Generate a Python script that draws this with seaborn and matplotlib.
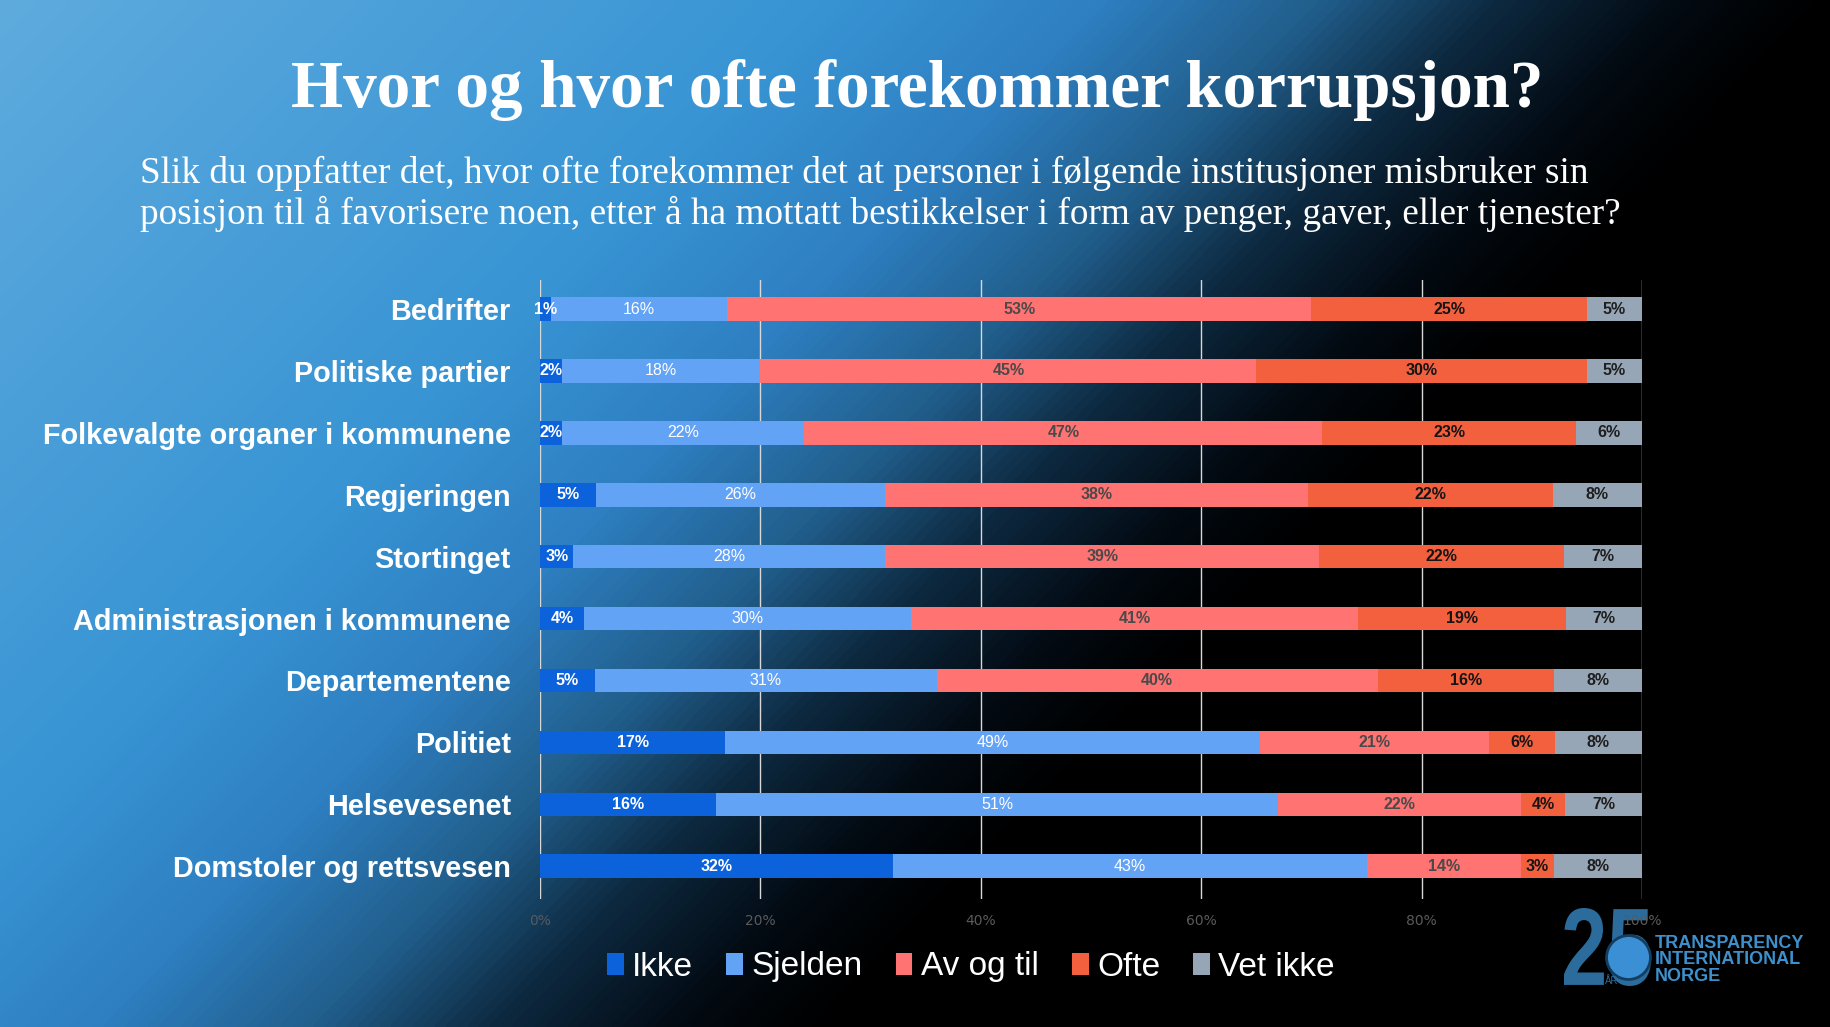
import numpy as np
import pandas as pd
import seaborn as sns
import matplotlib.pyplot as plt
import matplotlib.transforms as mtransforms
from matplotlib.colors import LinearSegmentedColormap
from matplotlib.patches import Patch, PathPatch
from matplotlib.textpath import TextPath
from matplotlib.font_manager import FontProperties

# Data
categories = [
    "Bedrifter",
    "Politiske partier",
    "Folkevalgte organer i kommunene",
    "Regjeringen",
    "Stortinget",
    "Administrasjonen i kommunene",
    "Departementene",
    "Politiet",
    "Helsevesenet",
    "Domstoler og rettsvesen",
]
ikke = [1, 2, 2, 5, 3, 4, 5, 17, 16, 32]
sjelden = [16, 18, 22, 26, 28, 30, 31, 49, 51, 43]
av_og_til = [53, 45, 47, 38, 39, 41, 40, 21, 22, 14]
ofte = [25, 30, 23, 22, 22, 19, 16, 6, 4, 3]
vet_ikke = [5, 5, 6, 8, 7, 7, 8, 8, 7, 8]
series_names = ["Ikke", "Sjelden", "Av og til", "Ofte", "Vet ikke"]
x_ticks = [0, 20, 40, 60, 80, 100]

title = "Hvor og hvor ofte forekommer korrupsjon?"
subtitle_1 = ("Slik du oppfatter det, hvor ofte forekommer det at personer i "
              "følgende institusjoner misbruker sin")
subtitle_2 = ("posisjon til å favorisere noen, etter å ha mottatt bestikkelser "
              "i form av penger, gaver, eller tjenester?")

colors = {
    "Ikke": "#0b62db",
    "Sjelden": "#63a3f6",
    "Av og til": "#ff7373",
    "Ofte": "#f2603e",
    "Vet ikke": "#97a6b6",
}
# (text colour, weight) for the labels in the bars
label_style = {
    "Ikke": ("white", "bold"),
    "Sjelden": ("white", "normal"),
    "Av og til": ("#4a4a4a", "bold"),
    "Ofte": ("#151515", "bold"),
    "Vet ikke": ("#1e1e1e", "bold"),
}

df = pd.DataFrame({
    "kategori": categories,
    "Ikke": ikke,
    "Sjelden": sjelden,
    "Av og til": av_og_til,
    "Ofte": ofte,
    "Vet ikke": vet_ikke,
})
# stacked to 100 %
shares = df[series_names].div(df[series_names].sum(axis=1), axis=0) * 100
cum = shares.cumsum(axis=1)

W, H = 1830, 1027
fig = plt.figure(figsize=(W / 100, H / 100), dpi=100)

# background gradient
bg = fig.add_axes([0, 0, 1, 1], zorder=-1)
yy, xx = np.mgrid[0:1:200j, 0:1:360j]
t = xx + 0.55 * yy
cmap = LinearSegmentedColormap.from_list("bg", [
    (0.0, (0.37, 0.67, 0.87)),
    (0.45 / 1.55, (0.22, 0.58, 0.83)),
    (0.60 / 1.55, (0.18, 0.50, 0.76)),
    (0.72 / 1.55, (0.13, 0.37, 0.55)),
    (0.82 / 1.55, (0.05, 0.16, 0.25)),
    (0.92 / 1.55, (0.01, 0.04, 0.07)),
    (1.0 / 1.55, (0.0, 0.0, 0.0)),
    (1.0, (0.0, 0.0, 0.0)),
])
bg.imshow(t, cmap=cmap, vmin=0, vmax=1.55, extent=[0, W, H, 0],
          aspect="auto", interpolation="bilinear")
bg.set_xlim(0, W)
bg.set_ylim(H, 0)
bg.axis("off")

# titles
fig.text(917 / W, 1 - 107 / H, title, ha="center", va="baseline",
         color="white", fontsize=48.3, fontweight="bold",
         family="Liberation Serif")
fig.text(140 / W, 1 - 183 / H, subtitle_1, ha="left", va="baseline",
         color="white", fontsize=26.8, family="Liberation Serif")
fig.text(140 / W, 1 - 224 / H, subtitle_2, ha="left", va="baseline",
         color="white", fontsize=26.8, family="Liberation Serif")

# chart
ax = fig.add_axes([540 / W, 1 - 899 / H, 1102 / W, 619 / H])
ax.set_facecolor("none")

for name in reversed(series_names):
    sns.barplot(x=cum[name].values, y=df["kategori"], color=colors[name],
                orient="h", width=0.38, saturation=1, linewidth=0, ax=ax)

for i in range(len(categories)):
    for name in series_names:
        centre = cum.loc[i, name] - shares.loc[i, name] / 2
        tc, fw = label_style[name]
        ax.text(centre, i, f"{df.loc[i, name]}%", ha="center", va="center",
                color=tc, fontweight=fw, fontsize=11.5,
                family="Liberation Sans")

ax.set_xlim(0, 100)
ax.set_ylim(len(categories) - 0.47, -0.47)
ax.set_xticks(x_ticks)
ax.set_xticklabels([f"{v}%" for v in x_ticks])
ax.grid(axis="x", color="#d8d8d8", linewidth=1.0)
ax.grid(axis="y", visible=False)
ax.set_axisbelow(True)
for s in ax.spines.values():
    s.set_visible(False)
ax.set_xlabel("")
ax.set_ylabel("")
ax.tick_params(axis="x", length=0, pad=11, labelsize=10, labelcolor="#5a5a5a")
ax.tick_params(axis="y", length=0, pad=21, labelsize=20.8, labelcolor="white")
for lab in ax.get_yticklabels():
    lab.set_fontweight("bold")
    lab.set_family("Liberation Sans")

# legend
handles = [Patch(facecolor=colors[n], edgecolor="none", label=n)
           for n in series_names]
fig.legend(handles=handles, loc="center", bbox_to_anchor=(971 / W, 1 - 967 / H),
           ncol=5, frameon=False, handlelength=0.5, handleheight=0.62,
           handletextpad=0.25, columnspacing=1.0,
           prop={"family": "Liberation Sans", "size": 24},
           labelcolor="white")

# logo: tall, narrow "25"
tp = TextPath((0, 0), "25", size=1,
              prop=FontProperties(family="Liberation Sans", weight="bold"))
bb = tp.get_extents()
logo_tf = (mtransforms.Affine2D()
           .translate(-bb.x0, -bb.y0)
           .scale(87 / bb.width, -78 / bb.height)
           .translate(1564, 986))
bg.add_patch(PathPatch(tp, transform=logo_tf + bg.transData,
                       facecolor="#2b6c9c", edgecolor="none", zorder=2))
bg.scatter([1628], [957], s=1000, color="#3b8fd4", edgecolor="#143e60",
           linewidth=2, zorder=3)
bg.text(1612, 984, "ÅR", color="#2b6c9c", fontsize=7, ha="center",
        va="baseline", family="Liberation Sans", zorder=4)
for k, word in enumerate(["TRANSPARENCY", "INTERNATIONAL", "NORGE"]):
    bg.text(1655, 948 + k * 16.5, word, color="#3d90cc", fontsize=13,
            fontweight="bold", family="Liberation Sans",
            ha="left", va="baseline", zorder=4)

fig.savefig("out.png", dpi=100)
